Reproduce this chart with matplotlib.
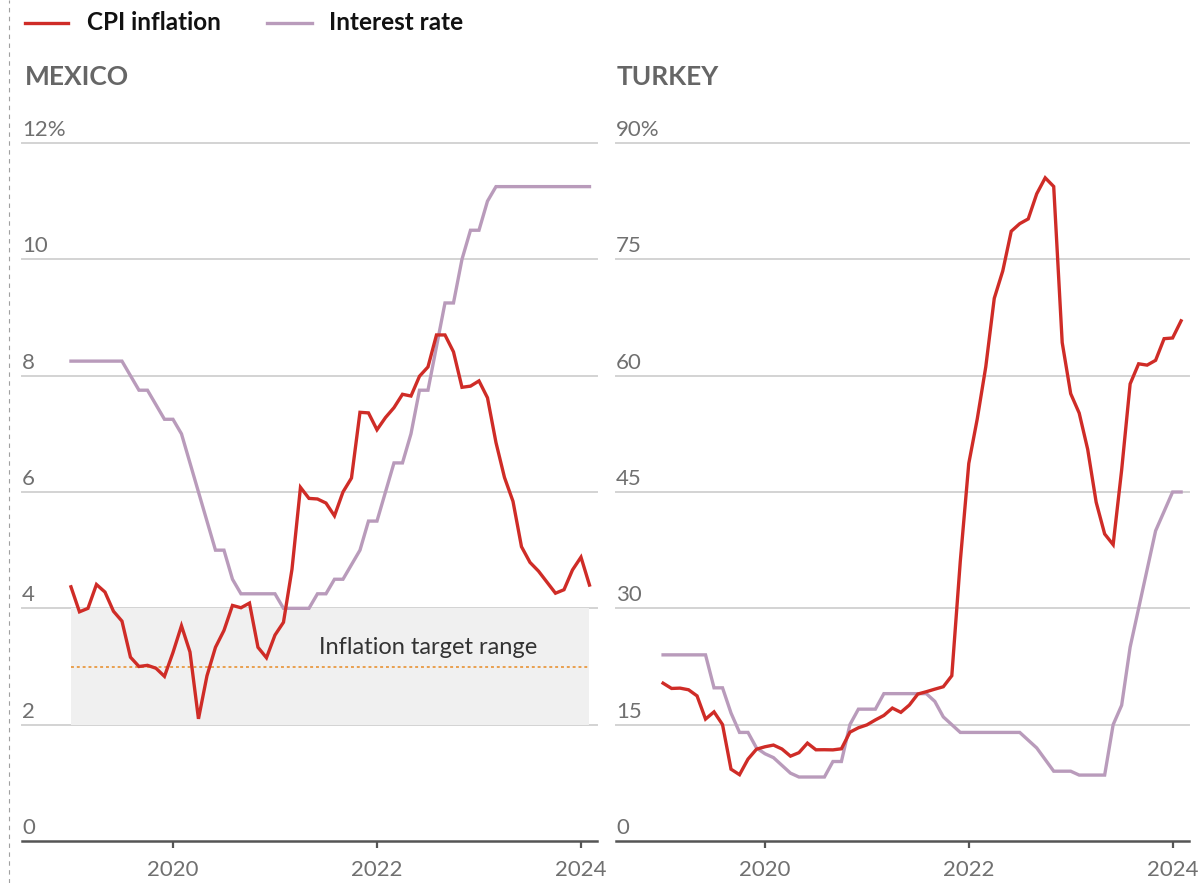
import numpy as np
import matplotlib
matplotlib.use("Agg")
import matplotlib.pyplot as plt
from matplotlib.lines import Line2D

plt.rcParams["font.family"] = ["Lato", "DejaVu Sans"]

# ---------------------------------------------------------------------------
# Data: monthly, Jan 2019 .. Feb 2024
# ---------------------------------------------------------------------------
START_YEAR = 2019

mexico_cpi = [
    4.37, 3.94, 4.00, 4.41, 4.28, 3.95, 3.78, 3.16, 3.00, 3.02, 2.97, 2.83,
    3.24, 3.70, 3.25, 2.10, 2.84, 3.33, 3.62, 4.05, 4.01, 4.09, 3.33, 3.15,
    3.54, 3.76, 4.67, 6.08, 5.89, 5.88, 5.81, 5.59, 6.00, 6.24, 7.37, 7.36,
    7.07, 7.28, 7.45, 7.68, 7.65, 7.99, 8.15, 8.70, 8.70, 8.41, 7.80, 7.82,
    7.91, 7.62, 6.85, 6.25, 5.84, 5.06, 4.79, 4.64, 4.45, 4.26, 4.32, 4.66,
    4.88, 4.40,
]
mexico_rate = [
    8.25, 8.25, 8.25, 8.25, 8.25, 8.25, 8.25, 8.00, 7.75, 7.75, 7.50, 7.25,
    7.25, 7.00, 6.50, 6.00, 5.50, 5.00, 5.00, 4.50, 4.25, 4.25, 4.25, 4.25,
    4.25, 4.00, 4.00, 4.00, 4.00, 4.25, 4.25, 4.50, 4.50, 4.75, 5.00, 5.50,
    5.50, 6.00, 6.50, 6.50, 7.00, 7.75, 7.75, 8.50, 9.25, 9.25, 10.00, 10.50,
    10.50, 11.00, 11.25, 11.25, 11.25, 11.25, 11.25, 11.25, 11.25, 11.25, 11.25, 11.25,
    11.25, 11.25,
]
turkey_cpi = [
    20.35, 19.67, 19.71, 19.50, 18.71, 15.72, 16.65, 15.01, 9.26, 8.55, 10.56, 11.84,
    12.15, 12.37, 11.86, 10.94, 11.39, 12.62, 11.76, 11.77, 11.75, 11.89, 14.03, 14.60,
    14.97, 15.61, 16.19, 17.14, 16.59, 17.53, 18.95, 19.25, 19.58, 19.89, 21.31, 36.08,
    48.69, 54.44, 61.14, 69.97, 73.50, 78.62, 79.60, 80.21, 83.45, 85.51, 84.39, 64.27,
    57.68, 55.18, 50.51, 43.68, 39.59, 38.21, 47.83, 58.94, 61.53, 61.36, 61.98, 64.77,
    64.86, 67.07,
]
turkey_rate = [
    24.0, 24.0, 24.0, 24.0, 24.0, 24.0, 19.75, 19.75, 16.5, 14.0, 14.0, 12.0,
    11.25, 10.75, 9.75, 8.75, 8.25, 8.25, 8.25, 8.25, 10.25, 10.25, 15.0, 17.0,
    17.0, 17.0, 19.0, 19.0, 19.0, 19.0, 19.0, 19.0, 18.0, 16.0, 15.0, 14.0,
    14.0, 14.0, 14.0, 14.0, 14.0, 14.0, 14.0, 13.0, 12.0, 10.5, 9.0, 9.0,
    9.0, 8.5, 8.5, 8.5, 8.5, 15.0, 17.5, 25.0, 30.0, 35.0, 40.0, 42.5,
    45.0, 45.0,
]

mexico_ticks = [0, 2, 4, 6, 8, 10, 12]
turkey_ticks = [0, 15, 30, 45, 60, 75, 90]
year_ticks = [2020, 2022, 2024]
target_low, target_mid, target_high = 2, 3, 4

RED = "#cf2c27"
PURPLE = "#b99bbb"
GRID = "#d3d3d3"
AXIS = "#555555"
LABEL = "#707070"

months = START_YEAR + np.arange(len(mexico_cpi)) / 12.0

# ---------------------------------------------------------------------------
# Figure
# ---------------------------------------------------------------------------
fig = plt.figure(figsize=(12.03, 8.83), dpi=100)
W, H = 1203, 883


def panel(x0, x1, y_top=143, y_bot=841):
    return fig.add_axes([x0 / W, 1 - y_bot / H, (x1 - x0) / W, (y_bot - y_top) / H])


ax_mx = panel(22, 597)
ax_tr = panel(616, 1189)


def style(ax, ticks, top_label, xlim):
    ax.set_xlim(*xlim)
    ax.set_ylim(ticks[0], ticks[-1])
    for s in ("left", "right", "top"):
        ax.spines[s].set_visible(False)
    ax.spines["bottom"].set_color(AXIS)
    ax.spines["bottom"].set_linewidth(1.8)
    ax.set_yticks([])
    for t in ticks[1:]:
        ax.axhline(t, color=GRID, lw=1.4, zorder=0, clip_on=False)
    for t in ticks:
        txt = top_label if t == ticks[-1] else f"{t}"
        ax.annotate(txt, xy=(0, t), xycoords=("axes fraction", "data"),
                    xytext=(0, 5), textcoords="offset points",
                    ha="left", va="baseline", fontsize=16, color=LABEL)
    ax.set_xticks(year_ticks)
    ax.set_xticklabels([str(y) for y in year_ticks])
    ax.tick_params(axis="x", length=5, width=1.6, color=AXIS, pad=9,
                   labelsize=16, labelcolor=LABEL)


style(ax_mx, mexico_ticks, "12%", (2018.520, 2024.157))
style(ax_tr, turkey_ticks, "90%", (2018.538, 2024.161))

# Mexico target band with the 3% midpoint
ax_mx.fill_between(months, target_low, target_high, color="#f0f0f0", lw=0, zorder=0.5)
ax_mx.plot(months, np.full(len(months), target_mid), color="#e9a04f",
           lw=1.4, ls=(0, (1.5, 1.5)), zorder=1)
ax_mx.text(2021.43, 3.32, "Inflation target range", fontsize=17,
           color="#333333", va="center", ha="left")

for ax, cpi, rate in ((ax_mx, mexico_cpi, mexico_rate), (ax_tr, turkey_cpi, turkey_rate)):
    ax.plot(months, rate, color=PURPLE, lw=2.4, zorder=2, solid_joinstyle="miter")
    ax.plot(months, cpi, color=RED, lw=2.4, zorder=3, solid_joinstyle="miter")

# Panel titles
fig.text(25 / W, 1 - 85 / H, "MEXICO", fontsize=19, fontweight="bold",
         color="#666666", va="baseline", ha="left")
fig.text(617 / W, 1 - 85 / H, "TURKEY", fontsize=19, fontweight="bold",
         color="#666666", va="baseline", ha="left")

# Legend
fig.add_artist(Line2D([25 / W, 68 / W], [1 - 23 / H] * 2, color=RED, lw=2.4))
fig.text(87 / W, 1 - 30 / H, "CPI inflation", fontsize=17.5, fontweight="bold",
         color="#111111", va="baseline", ha="left")
fig.add_artist(Line2D([267 / W, 312 / W], [1 - 23 / H] * 2, color=PURPLE, lw=2.4))
fig.text(329 / W, 1 - 30 / H, "Interest rate", fontsize=17.5, fontweight="bold",
         color="#111111", va="baseline", ha="left")

# dashed rule down the left edge
fig.add_artist(Line2D([9 / W, 9 / W], [0, 1], color="#a0a0a0", lw=0.8,
                      ls=(0, (4, 4))))

fig.savefig("out.png", dpi=100, facecolor="white")
